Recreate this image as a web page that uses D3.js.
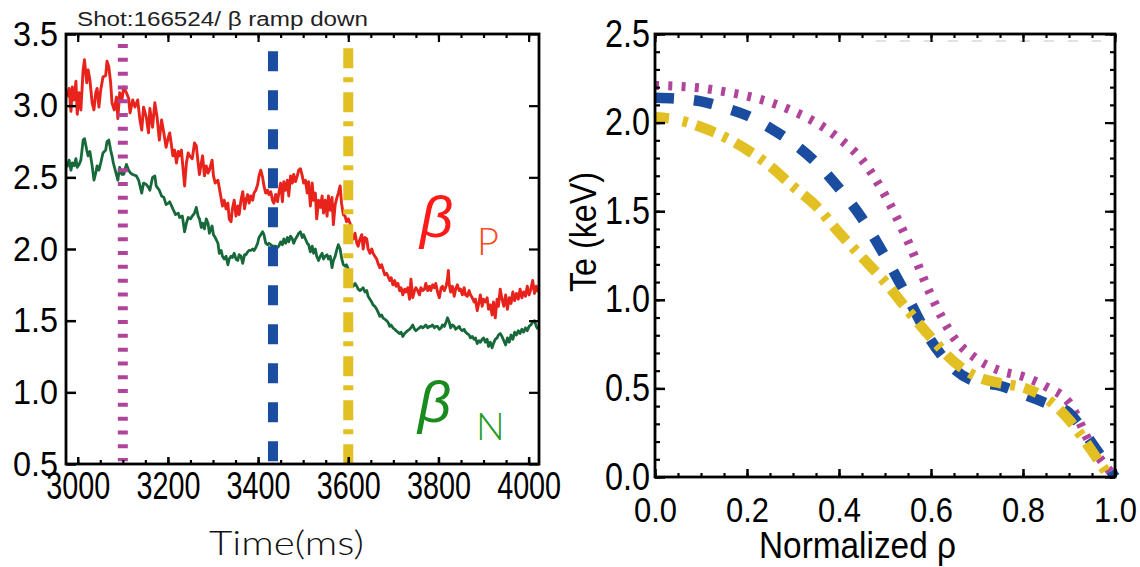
<!DOCTYPE html>
<html><head><meta charset="utf-8">
<script src="https://cdn.jsdelivr.net/npm/d3@7"></script>
<style>body{margin:0;background:#fff} svg{display:block}</style>
</head><body>
<svg id="chart" width="1140" height="567"></svg>
<script>
// ---------------- data ----------------
const timeTicks = [3000, 3200, 3400, 3600, 3800, 4000];
const timeMinorTicks = d3.range(3000, 4001, 50);
const betaTicks = [0.5, 1.0, 1.5, 2.0, 2.5, 3.0, 3.5];
const markerTimes = [3100, 3433, 3600];           // magenta dotted, blue dashed, yellow dash-dot
const titleText = "Shot:166524/ \u03b2 ramp down";

const betaP = [[2976,3.06],[2981,3.12],[2985,2.96],[2988,3.13],[2992,3.04],[2996,3.17],[2999,2.94],[3003,3.09],[3007,2.97],[3012,3.25],[3015,3.32],[3020,3.16],[3023,3.25],[3027,3.18],[3032,3.02],[3036,2.97],[3040,3.09],[3043,3.12],[3047,2.99],[3051,3.11],[3056,3.20],[3062,3.21],[3065,3.31],[3069,3.27],[3073,3.16],[3076,3.02],[3081,2.97],[3086,3.06],[3089,2.91],[3093,3.09],[3098,3.04],[3102,3.13],[3108,3.09],[3113,3.05],[3116,2.95],[3122,3.04],[3127,2.99],[3133,3.04],[3138,2.90],[3142,2.83],[3146,2.99],[3152,2.92],[3157,2.81],[3160,2.98],[3166,2.85],[3171,3.02],[3176,2.92],[3181,2.76],[3186,2.90],[3191,2.81],[3196,2.71],[3201,2.78],
[3204,2.81],[3208,2.72],[3211,2.65],[3215,2.69],[3219,2.60],[3223,2.68],[3226,2.65],[3230,2.69],[3233,2.58],[3237,2.44],[3241,2.60],[3245,2.67],[3248,2.65],[3254,2.63],[3259,2.74],[3263,2.72],[3267,2.60],[3270,2.52],[3274,2.60],[3277,2.65],[3281,2.51],[3285,2.58],[3289,2.53],[3292,2.55],[3298,2.62],[3301,2.51],[3305,2.46],[3311,2.48],[3316,2.39],[3321,2.30],[3325,2.34],[3329,2.28],[3333,2.32],[3336,2.21],[3340,2.19],[3343,2.28],[3347,2.34],[3351,2.23],[3355,2.30],[3358,2.24],[3362,2.34],[3366,2.40],[3370,2.28],[3373,2.34],[3377,2.38],[3380,2.32],[3384,2.37],[3388,2.34],[3391,2.39],[3395,2.41],[3399,2.45],[3402,2.51],[3406,2.55],[3410,2.50],[3413,2.44],[3417,2.39],[3421,2.41],[3424,2.38],[3428,2.40],[3432,2.34],[3435,2.32],[3439,2.38],[3443,2.33],
[3446,2.39],[3450,2.46],[3454,2.33],[3457,2.47],[3461,2.41],[3465,2.48],[3468,2.37],[3472,2.51],[3476,2.46],[3479,2.52],[3483,2.47],[3487,2.51],[3490,2.55],[3494,2.56],[3498,2.51],[3501,2.46],[3505,2.48],[3509,2.39],[3512,2.47],[3516,2.30],[3520,2.46],[3523,2.34],[3527,2.39],[3530,2.21],[3534,2.34],[3538,2.29],[3542,2.37],[3545,2.25],[3549,2.34],[3553,2.23],[3556,2.37],[3560,2.27],[3564,2.36],[3567,2.17],[3571,2.31],[3575,2.36],[3578,2.39],[3582,2.44],[3585,2.32],[3589,2.24],[3593,2.23],[3596,2.19],[3600,2.21],[3604,2.18],[3608,2.09],[3611,2.07],[3615,2.11],[3619,2.04],[3622,2.02],[3626,2.07],[3630,2.10],[3633,2.00],[3637,2.08],[3641,2.07],[3644,2.00],[3648,1.97],[3652,2.00],[3655,1.97],[3659,1.95],[3663,1.93],[3666,1.90],[3670,1.87],[3674,1.89],[3677,1.86],[3681,1.82],[3685,1.83],
[3688,1.81],[3692,1.78],[3695,1.80],[3699,1.75],[3703,1.78],[3706,1.74],[3710,1.76],[3714,1.71],[3717,1.73],[3721,1.68],[3725,1.72],[3728,1.70],[3732,1.73],[3736,1.65],[3739,1.79],[3743,1.66],[3747,1.71],[3750,1.73],[3754,1.71],[3758,1.68],[3761,1.73],[3765,1.71],[3769,1.72],[3772,1.76],[3776,1.71],[3780,1.74],[3783,1.71],[3787,1.75],[3791,1.73],[3794,1.76],[3798,1.70],[3802,1.66],[3806,1.73],[3809,1.74],[3813,1.71],[3817,1.74],[3820,1.79],[3822,1.85],[3824,1.75],[3827,1.70],[3831,1.74],[3835,1.67],[3838,1.72],[3842,1.75],[3846,1.71],[3849,1.72],[3853,1.68],[3857,1.73],[3860,1.68],[3864,1.67],[3868,1.71],[3871,1.68],[3875,1.66],[3879,1.63],[3882,1.65],[3886,1.57],[3890,1.63],[3893,1.68],[3897,1.60],[3900,1.65],[3904,1.63],[3908,1.66],[3911,1.58],[3915,1.61],[3919,1.54],[3922,1.63],[3926,1.52],[3930,1.65],[3933,1.60],[3937,1.72],[3941,1.65],
[3945,1.60],[3949,1.68],[3953,1.58],[3957,1.66],[3961,1.62],[3965,1.70],[3969,1.64],[3973,1.69],[3977,1.65],[3981,1.72],[3985,1.66],[3989,1.70],[3993,1.67],[3997,1.74],[4001,1.68],[4005,1.72],[4009,1.78],[4013,1.69],[4017,1.74],[4021,1.70]];

const betaN = [[2976,2.57],[2981,2.62],[2985,2.55],[2988,2.60],[2992,2.58],[2996,2.63],[2999,2.57],[3003,2.59],[3007,2.62],[3012,2.76],[3015,2.77],[3020,2.69],[3023,2.65],[3027,2.68],[3032,2.58],[3036,2.48],[3040,2.53],[3043,2.58],[3047,2.55],[3051,2.60],[3056,2.67],[3062,2.69],[3065,2.75],[3069,2.76],[3073,2.69],[3076,2.65],[3079,2.60],[3084,2.54],[3089,2.48],[3093,2.57],[3098,2.52],[3102,2.52],[3108,2.59],[3113,2.55],[3117,2.53],[3122,2.52],[3130,2.51],[3135,2.48],[3142,2.39],[3146,2.46],[3152,2.45],[3157,2.43],[3160,2.41],[3166,2.50],[3171,2.51],[3174,2.44],[3181,2.41],[3186,2.37],[3191,2.36],[3196,2.31],[3201,2.32],
[3204,2.33],[3211,2.28],[3217,2.24],[3223,2.25],[3226,2.22],[3232,2.23],[3237,2.12],[3241,2.18],[3245,2.22],[3250,2.21],[3254,2.23],[3259,2.25],[3263,2.29],[3267,2.23],[3270,2.21],[3274,2.15],[3277,2.18],[3281,2.14],[3285,2.21],[3289,2.18],[3292,2.11],[3298,2.16],[3301,2.10],[3305,2.08],[3311,2.04],[3314,1.97],[3318,1.99],[3321,1.95],[3325,1.93],[3329,1.95],[3333,1.89],[3336,1.93],[3340,1.95],[3343,1.94],[3347,1.97],[3351,1.93],[3355,1.92],[3358,1.96],[3362,1.95],[3366,1.90],[3370,1.96],[3373,1.96],[3377,1.98],[3380,1.99],[3384,1.99],[3388,2.00],[3391,1.99],[3395,2.01],[3399,2.04],[3402,2.08],[3406,2.10],[3410,2.12],[3413,2.10],[3417,2.04],[3421,2.03],[3424,2.04],[3432,2.02],[3439,2.02],[3443,2.01],
[3446,2.02],[3450,2.05],[3454,2.03],[3457,2.07],[3461,2.04],[3465,2.08],[3468,2.05],[3472,2.09],[3476,2.07],[3479,2.04],[3483,2.07],[3487,2.09],[3490,2.11],[3494,2.12],[3498,2.08],[3501,2.10],[3505,2.07],[3509,2.04],[3512,2.03],[3516,1.98],[3520,2.02],[3523,1.97],[3527,2.00],[3530,1.95],[3534,1.92],[3538,1.95],[3542,1.97],[3545,1.93],[3549,1.95],[3553,1.96],[3556,1.93],[3560,1.95],[3564,1.87],[3567,1.92],[3571,1.95],[3575,2.00],[3578,2.03],[3582,2.00],[3585,1.94],[3589,1.89],[3593,1.88],[3596,1.89],[3600,1.86],[3604,1.79],[3608,1.75],[3611,1.74],[3615,1.76],[3619,1.74],[3622,1.72],[3626,1.71],[3630,1.72],[3633,1.73],[3637,1.70],[3641,1.71],[3644,1.67],[3648,1.65],[3652,1.63],[3655,1.61],[3659,1.60],[3663,1.58],[3666,1.56],[3670,1.53],[3674,1.54],[3677,1.52],[3681,1.51],[3685,1.50],
[3688,1.49],[3692,1.46],[3695,1.47],[3699,1.45],[3703,1.44],[3706,1.43],[3710,1.42],[3714,1.41],[3717,1.42],[3721,1.39],[3725,1.41],[3728,1.42],[3732,1.43],[3736,1.44],[3739,1.45],[3743,1.47],[3747,1.44],[3750,1.43],[3754,1.44],[3758,1.45],[3761,1.46],[3765,1.45],[3769,1.46],[3772,1.47],[3776,1.45],[3780,1.46],[3783,1.46],[3787,1.47],[3791,1.45],[3794,1.46],[3798,1.46],[3802,1.44],[3806,1.45],[3809,1.47],[3813,1.46],[3817,1.49],[3820,1.52],[3824,1.49],[3827,1.45],[3831,1.47],[3835,1.46],[3838,1.44],[3842,1.45],[3846,1.46],[3849,1.44],[3853,1.43],[3857,1.44],[3860,1.42],[3864,1.41],[3868,1.40],[3871,1.38],[3875,1.39],[3879,1.37],[3882,1.38],[3886,1.34],[3890,1.36],[3893,1.35],[3897,1.37],[3900,1.38],[3904,1.35],[3908,1.37],[3911,1.32],[3915,1.35],[3919,1.31],[3922,1.34],[3926,1.37],[3930,1.38],[3933,1.40],[3937,1.41],[3941,1.39],
[3945,1.36],[3949,1.33],[3953,1.38],[3957,1.35],[3961,1.40],[3965,1.37],[3969,1.42],[3973,1.40],[3977,1.43],[3981,1.41],[3985,1.44],[3989,1.42],[3993,1.45],[3997,1.43],[4001,1.46],[4005,1.47],[4009,1.49],[4013,1.50],[4017,1.46],[4021,1.44]];

const rhoTicks = [0, 0.2, 0.4, 0.6, 0.8, 1.0];
const rhoMinorTicks = d3.range(0, 1.0001, 0.05);
const teTicks = [0, 0.5, 1.0, 1.5, 2.0, 2.5];
const teMinorTicks = d3.range(0, 2.5001, 0.1);

const teMagenta = [[0,2.21],[0.05,2.205],[0.1,2.195],[0.15,2.175],[0.2,2.15],[0.25,2.115],[0.3,2.065],[0.35,2.0],[0.4,1.91],[0.45,1.79],[0.5,1.59],[0.55,1.33],[0.6,1.025],[0.65,0.785],[0.7,0.665],[0.75,0.60],[0.8,0.567],[0.85,0.51],[0.9,0.42],[0.95,0.17],[1.0,0.0]];
const teBlue = [[0,2.14],[0.05,2.135],[0.1,2.12],[0.15,2.085],[0.2,2.04],[0.25,1.97],[0.3,1.885],[0.35,1.775],[0.4,1.63],[0.45,1.46],[0.5,1.245],[0.55,1.01],[0.6,0.77],[0.65,0.61],[0.7,0.535],[0.75,0.515],[0.8,0.467],[0.85,0.417],[0.9,0.362],[0.95,0.19],[1.0,0.0]];
const teYellow = [[0,2.03],[0.05,2.015],[0.1,1.975],[0.15,1.92],[0.2,1.847],[0.25,1.755],[0.3,1.64],[0.35,1.53],[0.4,1.38],[0.45,1.24],[0.5,1.10],[0.55,0.94],[0.6,0.787],[0.65,0.65],[0.7,0.566],[0.75,0.529],[0.8,0.505],[0.85,0.444],[0.9,0.323],[0.95,0.146],[0.98,0.03]];

// ---------------- styles ----------------
const C = {red:"#e8231c", green:"#17693a", magenta:"#b0449b", blue:"#1a4c9f", yellow:"#e2bf22"};
const tickFont = "'Liberation Sans', Arial, Helvetica, sans-serif";
const geoFont = "Lato, 'Open Sans', sans-serif";

const svg = d3.select("#chart");

function styleAxis(g, fontSize, textLen){
  g.select(".domain").remove();
  g.selectAll("line").attr("stroke","#000").attr("stroke-width",2.5);
  g.selectAll("text").attr("font-size",fontSize).attr("font-family",tickFont).attr("fill","#000")
    .attr("textLength",textLen).attr("lengthAdjust","spacingAndGlyphs");
}
function minorAxis(g){ g.select(".domain").remove(); g.selectAll("line").attr("stroke","#000").attr("stroke-width",2.2); g.selectAll("text").remove(); }

// ---------------- left panel ----------------
const L = {left:66, right:539, top:34, bottom:464};
const xL = d3.scaleLinear().domain([2974, 4023]).range([L.left, L.right]);
const yL = d3.scaleLinear().domain([0.5, 3.5]).range([L.bottom, L.top]);

svg.append("clipPath").attr("id","clipL").append("rect")
  .attr("x",L.left).attr("y",L.top).attr("width",L.right-L.left).attr("height",L.bottom-L.top);

const gL = svg.append("g");
const traces = gL.append("g").attr("clip-path","url(#clipL)");
const lineL = d3.line().x(d=>xL(d[0])).y(d=>yL(d[1]));
traces.append("path").datum(betaP).attr("d",lineL).attr("fill","none").attr("stroke",C.red).attr("stroke-width",2.9).attr("stroke-linejoin","round");
traces.append("path").datum(betaN).attr("d",lineL).attr("fill","none").attr("stroke",C.green).attr("stroke-width",2.8).attr("stroke-linejoin","round");

// vertical time markers
const markerStyles = [
  {color:C.magenta, dash:"4,9.8", top:3.43, bottom:0.52, w:10},
  {color:C.blue, dash:"20,19", top:3.38, bottom:0.51, w:10},
  {color:C.yellow, dash:"20,9,5,10", top:3.40, bottom:0.5, w:10}
];
markerTimes.forEach((t,i)=>{
  const s = markerStyles[i];
  gL.append("line").attr("x1",xL(t)).attr("x2",xL(t)).attr("y1",yL(s.top)).attr("y2",yL(s.bottom))
    .attr("stroke",s.color).attr("stroke-width",s.w).attr("stroke-dasharray",s.dash);
});

// axes
styleAxis(gL.append("g").attr("transform",`translate(0,${L.bottom})`)
  .call(d3.axisBottom(xL).tickValues(timeTicks).tickSize(-7).tickPadding(8).tickFormat(d3.format("d"))), 38, 64);
minorAxis(gL.append("g").attr("transform",`translate(0,${L.bottom})`).call(d3.axisBottom(xL).tickValues(timeMinorTicks).tickSize(-4)));
minorAxis(gL.append("g").attr("transform",`translate(0,${L.top})`).call(d3.axisTop(xL).tickValues(timeTicks).tickSize(-8)));
minorAxis(gL.append("g").attr("transform",`translate(0,${L.top})`).call(d3.axisTop(xL).tickValues(timeMinorTicks).tickSize(-4)));
styleAxis(gL.append("g").attr("transform",`translate(${L.left},0)`)
  .call(d3.axisLeft(yL).tickValues(betaTicks).tickSize(-10).tickPadding(8).tickFormat(d3.format(".1f"))), 35, 45);
minorAxis(gL.append("g").attr("transform",`translate(${L.right},0)`).call(d3.axisRight(yL).tickValues(betaTicks).tickSize(-10)));
gL.append("rect").attr("x",L.left).attr("y",L.top).attr("width",L.right-L.left).attr("height",L.bottom-L.top)
  .attr("fill","none").attr("stroke","#000").attr("stroke-width",2.8);

// title & labels
svg.append("text").attr("x",77).attr("y",26).text(titleText)
  .attr("font-family",tickFont).attr("font-size",20).attr("fill","#222")
  .attr("textLength",291).attr("lengthAdjust","spacingAndGlyphs");
svg.append("text").attr("x",209).attr("y",555).text("Time(ms)")
  .attr("font-family",geoFont).attr("font-weight",300).attr("font-size",34).attr("fill","#111")
  .attr("textLength",155).attr("lengthAdjust","spacingAndGlyphs");

// beta labels
svg.append("text").attr("x",420).attr("y",237).text("\u03b2").attr("font-family",tickFont).attr("font-style","italic")
  .attr("font-size",58).attr("fill","#ff1a1a");
svg.append("text").attr("x",477).attr("y",255).text("P").attr("font-family",geoFont).attr("font-weight",300)
  .attr("font-size",38).attr("fill","#ff4a22");
svg.append("text").attr("x",418).attr("y",422).text("\u03b2").attr("font-family",tickFont).attr("font-style","italic")
  .attr("font-size",58).attr("fill","#1a8c1f");
svg.append("text").attr("x",476).attr("y",440).text("N").attr("font-family",geoFont).attr("font-weight",300)
  .attr("font-size",38).attr("fill","#229a22");

// ---------------- right panel ----------------
const R = {left:655, right:1115, top:34, bottom:477};
const xR = d3.scaleLinear().domain([0, 1]).range([R.left, R.right]);
const yR = d3.scaleLinear().domain([0, 2.5]).range([R.bottom, R.top]);

svg.append("clipPath").attr("id","clipR").append("rect")
  .attr("x",R.left).attr("y",R.top-6).attr("width",R.right-R.left+8).attr("height",R.bottom-R.top+8);

const gR = svg.append("g");
// faint artefact line near top
gR.append("line").attr("x1",xR(0.48)).attr("x2",xR(0.97)).attr("y1",yR(2.46)).attr("y2",yR(2.46))
  .attr("stroke","#d8d8d8").attr("stroke-width",1.5).attr("stroke-dasharray","10,14");

const curves = gR.append("g").attr("clip-path","url(#clipR)");
const lineR = d3.line().x(d=>xR(d[0])).y(d=>yR(d[1])).curve(d3.curveMonotoneX);
curves.append("path").datum(teMagenta).attr("d",lineR).attr("fill","none").attr("stroke",C.magenta)
  .attr("stroke-width",9).attr("stroke-dasharray","4,9.3");
curves.append("path").datum(teBlue).attr("d",lineR).attr("fill","none").attr("stroke",C.blue)
  .attr("stroke-width",10.5).attr("stroke-dasharray","19,20");
curves.append("path").datum(teYellow).attr("d",lineR).attr("fill","none").attr("stroke",C.yellow)
  .attr("stroke-width",10.5).attr("stroke-dasharray","14,14,5,9,20,9,5,9,20,9,5,9,20,9,5,9,20,9,5,9,20,9,5,9,20,9,5,9,20,9,5,9,20,9,5,9,20,9,5,9,20,9,5,9");

styleAxis(gR.append("g").attr("transform",`translate(0,${R.bottom})`)
  .call(d3.axisBottom(xR).tickValues(rhoTicks).tickSize(-8).tickPadding(20).tickFormat(d3.format(".1f"))), 35, 43);
minorAxis(gR.append("g").attr("transform",`translate(0,${R.bottom})`).call(d3.axisBottom(xR).tickValues(rhoMinorTicks).tickSize(-4)));
minorAxis(gR.append("g").attr("transform",`translate(0,${R.top})`).call(d3.axisTop(xR).tickValues(rhoTicks).tickSize(-8)));
minorAxis(gR.append("g").attr("transform",`translate(0,${R.top})`).call(d3.axisTop(xR).tickValues(rhoMinorTicks).tickSize(-4)));
styleAxis(gR.append("g").attr("transform",`translate(${R.left},0)`)
  .call(d3.axisLeft(yR).tickValues(teTicks).tickSize(-10).tickPadding(5).tickFormat(d3.format(".1f"))), 38, 45);
minorAxis(gR.append("g").attr("transform",`translate(${R.left},0)`).call(d3.axisLeft(yR).tickValues(teMinorTicks).tickSize(-5)));
minorAxis(gR.append("g").attr("transform",`translate(${R.right},0)`).call(d3.axisRight(yR).tickValues(teTicks).tickSize(-10)));
minorAxis(gR.append("g").attr("transform",`translate(${R.right},0)`).call(d3.axisRight(yR).tickValues(teMinorTicks).tickSize(-5)));
gR.append("rect").attr("x",R.left).attr("y",R.top).attr("width",R.right-R.left).attr("height",R.bottom-R.top)
  .attr("fill","none").attr("stroke","#000").attr("stroke-width",2.8);

svg.append("text").attr("x",759).attr("y",558).text("Normalized \u03c1")
  .attr("font-family",tickFont).attr("font-size",37).attr("fill","#000")
  .attr("textLength",197).attr("lengthAdjust","spacingAndGlyphs");
svg.append("text").attr("transform","translate(596,292) rotate(-90)").text("Te (keV)")
  .attr("font-family",tickFont).attr("font-size",37).attr("fill","#000")
  .attr("textLength",120).attr("lengthAdjust","spacingAndGlyphs");
</script>
</body></html>
